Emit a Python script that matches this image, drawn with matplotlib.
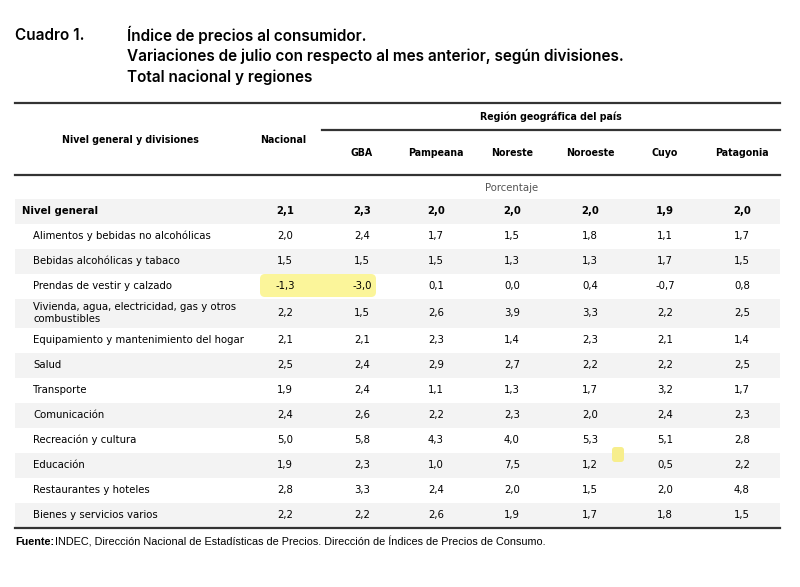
import matplotlib
matplotlib.use("Agg")
import matplotlib.pyplot as plt
from matplotlib.patches import Rectangle, FancyBboxPatch
from matplotlib import font_manager

# ---------------------------------------------------------------- data
regiones = ['GBA', 'Pampeana', 'Noreste', 'Noroeste', 'Cuyo', 'Patagonia']
divisiones = ['Nivel general',
              'Alimentos y bebidas no alcohólicas',
              'Bebidas alcohólicas y tabaco',
              'Prendas de vestir y calzado',
              'Vivienda, agua, electricidad, gas y otros\ncombustibles',
              'Equipamiento y mantenimiento del hogar',
              'Salud',
              'Transporte',
              'Comunicación',
              'Recreación y cultura',
              'Educación',
              'Restaurantes y hoteles',
              'Bienes y servicios varios']
nacional  = [2.1, 2.0, 1.5, -1.3, 2.2, 2.1, 2.5, 1.9, 2.4, 5.0, 1.9, 2.8, 2.2]
gba       = [2.3, 2.4, 1.5, -3.0, 1.5, 2.1, 2.4, 2.4, 2.6, 5.8, 2.3, 3.3, 2.2]
pampeana  = [2.0, 1.7, 1.5, 0.1, 2.6, 2.3, 2.9, 1.1, 2.2, 4.3, 1.0, 2.4, 2.6]
noreste   = [2.0, 1.5, 1.3, 0.0, 3.9, 1.4, 2.7, 1.3, 2.3, 4.0, 7.5, 2.0, 1.9]
noroeste  = [2.0, 1.8, 1.3, 0.4, 3.3, 2.3, 2.2, 1.7, 2.0, 5.3, 1.2, 1.5, 1.7]
cuyo      = [1.9, 1.1, 1.7, -0.7, 2.2, 2.1, 2.2, 3.2, 2.4, 5.1, 0.5, 2.0, 1.8]
patagonia = [2.0, 1.7, 1.5, 0.8, 2.5, 1.4, 2.5, 1.7, 2.3, 2.8, 2.2, 4.8, 1.5]

# ---------------------------------------------------------------- fonts
names = {f.name for f in font_manager.fontManager.ttflist}
titlefont = 'Inter' if 'Inter' in names else 'DejaVu Sans'
cond = dict(family='DejaVu Sans', fontstretch='condensed', fontsize=8.1)
condh = dict(family='DejaVu Sans', fontstretch='condensed', fontsize=7.6, weight='bold')

fig = plt.figure(figsize=(8, 5.87), dpi=100)
ax = fig.add_axes([0, 0, 1, 1])
ax.set_xlim(0, 800)
ax.set_ylim(587, 0)
ax.axis('off')

# ---------------------------------------------------------------- title
ax.text(15, 35, 'Cuadro 1.', fontsize=11, family=titlefont, weight='semibold', va='center')
titulo = ['Índice de precios al consumidor.',
          'Variaciones de julio con respecto al mes anterior, según divisiones.',
          'Total nacional y regiones']
for i, t in enumerate(titulo):
    ax.text(127, 35 + i * 21, t, fontsize=11, family=titlefont, weight='semibold', va='center')

# ---------------------------------------------------------------- table frame
left, right = 15, 780
ax.plot([left, right], [103, 103], color='#333333', lw=1.6)
ax.plot([322, right], [130, 130], color='#333333', lw=1.6)
ax.plot([left, right], [175, 175], color='#333333', lw=1.6)

col_x = [285, 362, 436, 512, 590, 665, 742]
ax.text(130, 140, 'Nivel general y divisiones', ha='center', va='center', **condh)
ax.text(283, 140, 'Nacional', ha='center', va='center', **condh)
ax.text(551, 117, 'Región geográfica del país', ha='center', va='center', **condh)
for x, r in zip(col_x[1:], regiones):
    ax.text(x, 153, r, ha='center', va='center', **condh)
ax.text(512, 188, 'Porcentaje', ha='center', va='center', color='#555555', **cond)

# ---------------------------------------------------------------- rows
row_y = [211, 236, 261, 286, 313, 340, 365, 390, 415, 440, 465, 490, 515]
row_h = [25, 25, 25, 25, 29, 25, 25, 25, 25, 25, 25, 25, 25]

# yellow highlights
ax.add_patch(FancyBboxPatch((262, 276), 112, 19, boxstyle='round,pad=2,rounding_size=5',
                            fc='#fbf59a', ec='none', zorder=1))
ax.add_patch(FancyBboxPatch((613, 448), 10, 13, boxstyle='round,pad=1,rounding_size=3',
                            fc='#f7ee8c', ec='none', zorder=1))

columnas = [nacional, gba, pampeana, noreste, noroeste, cuyo, patagonia]
for i, (lab, y, h) in enumerate(zip(divisiones, row_y, row_h)):
    if i % 2 == 0:
        ax.add_patch(Rectangle((left, y - h / 2), right - left, h, fc='#f3f3f3', ec='none', zorder=0))
    bold = 'bold' if i == 0 else 'normal'
    ax.text(22 if i == 0 else 33, y, lab, weight=bold, va='center', linespacing=1.3,
            zorder=3, **cond)
    for x, col in zip(col_x, columnas):
        ax.text(x, y, f'{col[i]:.1f}'.replace('.', ','), weight=bold,
                ha='center', va='center', zorder=3, **cond)

ax.plot([left, right], [528, 528], color='#333333', lw=1.6)

# ---------------------------------------------------------------- footer
ax.text(15, 542, 'Fuente:', family='Liberation Sans', weight='bold', fontsize=7.8, va='center')
ax.text(55, 542, 'INDEC, Dirección Nacional de Estadísticas de Precios. Dirección de Índices de Precios de Consumo.',
        family='Liberation Sans', fontsize=7.8, va='center')

fig.savefig('out.png', dpi=100, facecolor='white')
